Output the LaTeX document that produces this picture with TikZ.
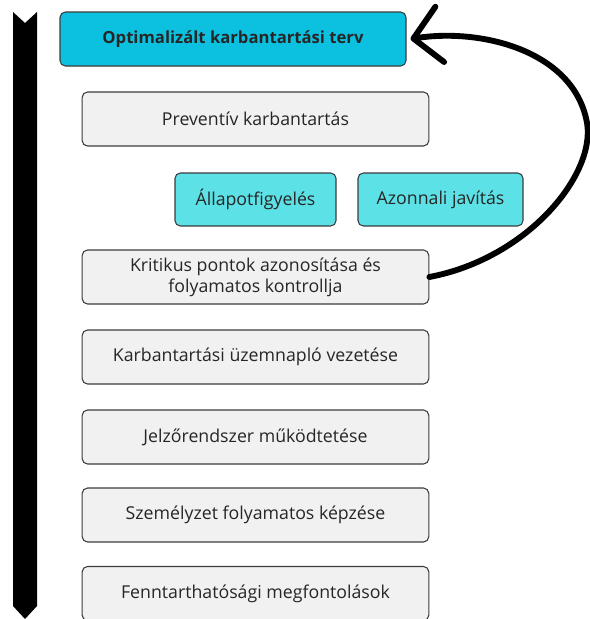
\documentclass[tikz,border=0pt]{standalone}
\usepackage{fontspec}
\setmainfont{Open Sans}
\usetikzlibrary{arrows.meta}
\definecolor{planblue}{RGB}{12,192,223}
\definecolor{subblue}{RGB}{92,225,230}
\definecolor{stepgray}{RGB}{241,241,241}
\definecolor{edgegray}{RGB}{60,60,60}
\tikzset{
  stepbox/.style={draw=edgegray, line width=0.8pt, rounded corners=4pt, fill=stepgray,
    minimum width=260pt, minimum height=40.5pt, align=center, font=\fontsize{13.3}{15.5}\selectfont, text=black!85},
  subbox/.style={stepbox, fill=subblue},
  planbox/.style={stepbox, fill=planblue, font=\bfseries\fontsize{12.5}{14.5}\selectfont}
}
\begin{document}
\begin{tikzpicture}[x=0.75pt,y=0.75pt,yscale=-1,xscale=1]
\useasboundingbox (0,0) rectangle (590,619);

%Shape: timeline bar
\fill[black] (13,12) -- (25,23) -- (37,12) -- (37,606) -- (25,619) -- (13,606) -- cycle;

% Text Node
\node[planbox, minimum width=259.5pt] (plan) at (233,39) {Optimalizált karbantartási terv};
% Text Node
\node[stepbox] (prev) at (255.5,119) {Preventív karbantartás};
% Text Node
\node[subbox, minimum width=120.75pt, minimum height=39.75pt] (allapot) at (255.5,199.5) {Állapotfigyelés};
% Text Node
\node[subbox, minimum width=123.75pt, minimum height=39.75pt] (azonnali) at (440.5,199.5) {Azonnali javítás};
% Text Node
\node[stepbox] (krit) at (255.5,277) {Kritikus pontok azonosítása és\\folyamatos kontrollja};
% Text Node
\node[stepbox] (naplo) at (255.5,357) {Karbantartási üzemnapló vezetése};
% Text Node
\node[stepbox] (jelzo) at (255.5,437) {Jelzőrendszer működtetése};
% Text Node
\node[stepbox] (szemely) at (255.5,515) {Személyzet folyamatos képzése};
% Text Node
\node[stepbox] (fennt) at (255.5,593.5) {Fenntarthatósági megfontolások};

%Curve Lines: feedback arrow
\draw[line width=4.4pt, line cap=round, -{Straight Barb[round, length=20pt, width=42pt, line width=4.4pt]}]
  (krit.east) .. controls (530,258) and (600,170) .. (586,118)
  .. controls (570,50) and (480,28) .. ([xshift=3pt]plan.east);

\end{tikzpicture}
\end{document}
